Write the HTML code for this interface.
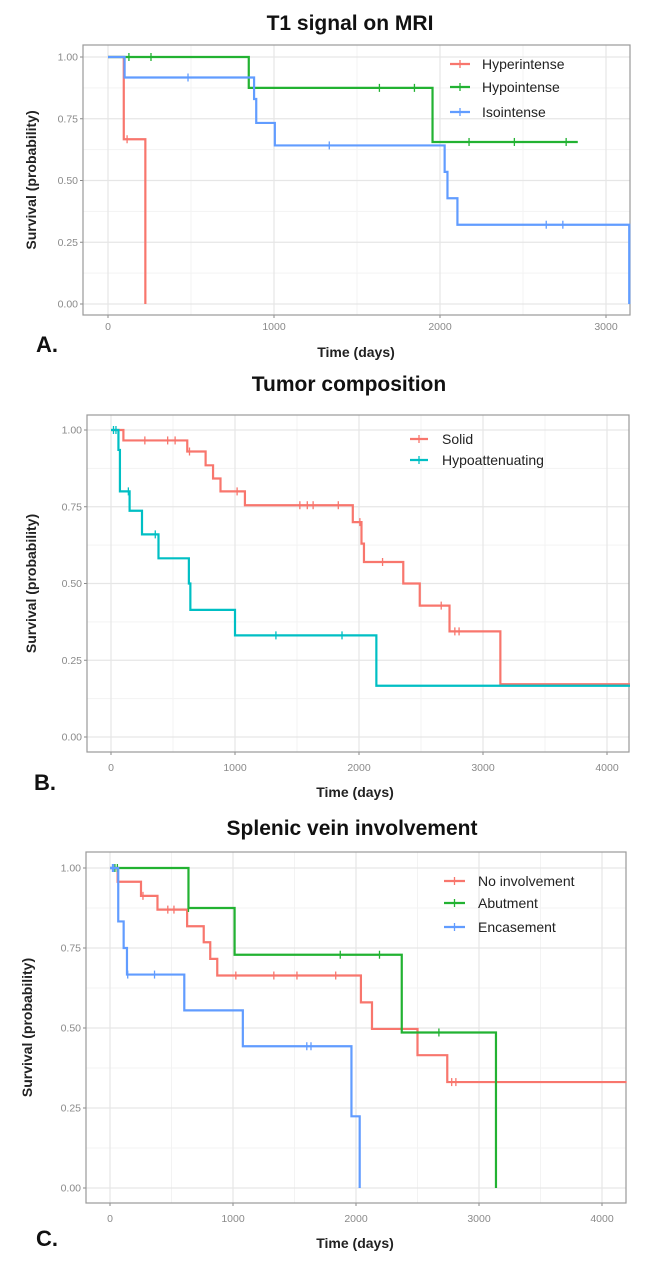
<!DOCTYPE html>
<html><head><meta charset="utf-8">
<style>
html,body{margin:0;padding:0;background:#fff;}
svg{display:block;font-family:"Liberation Sans",sans-serif;}
.tick{fill:#8a8a8a;font-size:10.5px;}
.ttl{font-weight:bold;font-size:21px;fill:#111;}
.axt{font-weight:bold;font-size:14px;fill:#222;}
.lab{font-weight:bold;font-size:22px;fill:#111;}
.leg{font-size:14px;fill:#222;}
</style></head>
<body>
<svg id="fig" width="648" height="1270" viewBox="0 0 648 1270"></svg>
<script>
// ---- Panel A data: T1 signal on MRI ----
const aHyperT=[0,95,225];
const aHyperS=[1,0.667,0];
const aHyperC=[115];
const aHyperEnd=225;
const aHypoT=[0,848,1955];
const aHypoS=[1,0.875,0.656];
const aHypoC=[126,259,1635,1846,2175,2448,2760];
const aHypoEnd=2830;
const aIsoT=[0,100,880,893,1005,2028,2045,2105,3140];
const aIsoS=[1,0.917,0.83,0.733,0.642,0.535,0.428,0.321,0];
const aIsoC=[482,1333,2640,2740];
const aIsoEnd=3140;
// ---- Panel B data: Tumor composition ----
const bSolidT=[0,100,615,763,823,883,1080,1950,2020,2040,2357,2490,2730,3140];
const bSolidS=[1,0.966,0.93,0.885,0.842,0.80,0.755,0.70,0.63,0.57,0.50,0.428,0.344,0.172];
const bSolidC=[273,457,517,633,1017,1523,1583,1630,1833,2007,2190,2663,2773,2807];
const bSolidEnd=4200;
const bHypoT=[0,60,72,150,250,383,628,640,1000,2140];
const bHypoS=[1,0.935,0.80,0.737,0.66,0.582,0.5,0.414,0.331,0.167];
const bHypoC=[20,40,140,357,1330,1863];
const bHypoEnd=4200;
// ---- Panel C data: Splenic vein involvement ----
const cNoT=[0,62,252,386,627,762,815,872,2040,2130,2500,2742];
const cNoS=[1,0.957,0.913,0.87,0.818,0.768,0.716,0.664,0.58,0.497,0.415,0.331];
const cNoC=[268,470,520,1023,1332,1520,1835,2778,2812];
const cNoEnd=4200;
const cAbT=[0,638,1013,2372,3138];
const cAbS=[1,0.875,0.729,0.486,0];
const cAbC=[40,60,638,1872,2191,2674];
const cAbEnd=3138;
const cEnT=[0,67,111,138,604,1080,1963,2030];
const cEnS=[1,0.833,0.75,0.667,0.555,0.443,0.224,0];
const cEnC=[20,30,144,362,1600,1634];
const cEnEnd=2030;
// ---- axis tick labels ----
const yTicks=[0,0.25,0.5,0.75,1];
const yTickLabels=["0.00","0.25","0.50","0.75","1.00"];
const xTicksA=[0,1000,2000,3000];
const xTicksBC=[0,1000,2000,3000,4000];

const NS="http://www.w3.org/2000/svg";
const svg=document.getElementById('fig');
function mk(tag,attrs,parent){const e=document.createElementNS(NS,tag);for(const k in attrs)e.setAttribute(k,attrs[k]);(parent||svg).appendChild(e);return e;}

function panel(p){
  const g=mk('g',{});
  
  
  const sx=d=>p.x0+(d-0)*p.pxPerDay;
  const sy=v=>p.y0-(p.y0-p.y1)*v;
  mk('rect',{x:p.L,y:p.T,width:p.R-p.L,height:p.B-p.T,fill:'#fff'},g);
  for(let i=0;i<yTicks.length-1;i++){const v=(yTicks[i]+yTicks[i+1])/2;mk('line',{x1:p.L,x2:p.R,y1:sy(v),y2:sy(v),stroke:'#f3f3f3','stroke-width':1},g);}
  for(let i=0;i<p.xt.length;i++){const d=p.xt[i]+500;if(sx(d)<p.R)mk('line',{x1:sx(d),x2:sx(d),y1:p.T,y2:p.B,stroke:'#f3f3f3','stroke-width':1},g);}
  yTicks.forEach((v,i)=>{
    mk('line',{x1:p.L,x2:p.R,y1:sy(v),y2:sy(v),stroke:'#e6e6e6','stroke-width':1.2},g);
    mk('line',{x1:p.L-3,x2:p.L,y1:sy(v),y2:sy(v),stroke:'#888','stroke-width':1},g);
    const t=mk('text',{x:p.L-5,y:sy(v)+3.5,'text-anchor':'end',class:'tick'},g);t.textContent=yTickLabels[i];
    
    
  });
  p.xt.forEach(d=>{
    mk('line',{x1:sx(d),x2:sx(d),y1:p.T,y2:p.B,stroke:'#e6e6e6','stroke-width':1.2},g);
    mk('line',{x1:sx(d),x2:sx(d),y1:p.B,y2:p.B+3,stroke:'#888','stroke-width':1},g);
    const t=mk('text',{x:sx(d),y:p.xl,'text-anchor':'middle',class:'tick'},g);t.textContent=String(d);
    
    
  });
  mk('rect',{x:p.L,y:p.T,width:p.R-p.L,height:p.B-p.T,fill:'none',stroke:'#9a9a9a','stroke-width':1.2},g);
  const clip='clip'+p.id;
  const cp=mk('clipPath',{id:clip},g);mk('rect',{x:p.L,y:p.T-5,width:p.R-p.L+1,height:p.B-p.T+10},cp);
  p.series.forEach(s=>{
    let d='M'+sx(s.t[0])+','+sy(s.s[0]);
    for(let i=1;i<s.t.length;i++){d+=' H'+sx(s.t[i])+' V'+sy(s.s[i]);}
    d+=' H'+sx(s.end);
    const path=mk('path',{d:d,fill:'none',stroke:s.col,'stroke-width':2.2,'clip-path':'url(#'+clip+')'},g);
    
    
    s.c.forEach(c=>{
      let v=s.s[0];for(let i=0;i<s.t.length;i++){if(s.t[i]<=c)v=s.s[i];}
      const m=mk('line',{x1:sx(c),x2:sx(c),y1:sy(v)-4,y2:sy(v)+4,stroke:s.col,'stroke-width':1.3},g);
      
      
    });
  });
  p.series.forEach((s,i)=>{
    const y=p.legY[i];
    const lg=mk('g',{},g);
    
    
    mk('line',{x1:p.legX,x2:p.legX+p.legW,y1:y,y2:y,stroke:s.col,'stroke-width':2.2},lg);
    mk('line',{x1:p.legX+p.legW/2,x2:p.legX+p.legW/2,y1:y-4,y2:y+4,stroke:s.col,'stroke-width':1.3},lg);
    const t=mk('text',{x:p.legTX,y:y+5,class:'leg','font-size':p.legFS},lg);t.textContent=s.label;
  });
  const tt=mk('text',{x:p.tx,y:p.ty,'text-anchor':'middle',class:'ttl'},g);tt.textContent=p.title;
  
  const xt=mk('text',{x:p.xtx,y:p.xty,'text-anchor':'middle',class:'axt'},g);xt.textContent='Time (days)';
  
  const cy=(p.T+p.B)/2;
  const yt=mk('text',{x:0,y:0,'text-anchor':'middle',class:'axt',transform:'translate('+p.ytx+','+cy+') rotate(-90)'},g);yt.textContent='Survival (probability)';
  
  const lb=mk('text',{x:p.lx,y:p.ly,class:'lab'},g);lb.textContent=p.letter;
  
}

panel({id:'A',name:'panel-a-t1-signal',L:83,R:630,T:45,B:315,x0:108,pxPerDay:0.166,y0:304,y1:57,xt:xTicksA,xl:330,
  title:'T1 signal on MRI',tx:350,ty:30,xtx:356,xty:357,ytx:36,lx:36,ly:352,letter:'A.',
  legX:450,legW:20,legTX:482,legY:[64,87,112],legFS:15,
  series:[
   {key:'hyperintense',label:'Hyperintense',col:'#F8766D',t:aHyperT,s:aHyperS,c:aHyperC,end:aHyperEnd},
   {key:'hypointense',label:'Hypointense',col:'#22B232',t:aHypoT,s:aHypoS,c:aHypoC,end:aHypoEnd},
   {key:'isointense',label:'Isointense',col:'#619CFF',t:aIsoT,s:aIsoS,c:aIsoC,end:aIsoEnd}]});

panel({id:'B',name:'panel-b-tumor-composition',L:87,R:629,T:415,B:752,x0:111,pxPerDay:0.124,y0:737,y1:430,xt:xTicksBC,xl:771,
  title:'Tumor composition',tx:349,ty:391,xtx:355,xty:797,ytx:36,lx:34,ly:790,letter:'B.',
  legX:410,legW:18,legTX:442,legFS:13,
  legY:[439,460],
  series:[
   {key:'solid',label:'Solid',col:'#F8766D',t:bSolidT,s:bSolidS,c:bSolidC,end:bSolidEnd},
   {key:'hypoattenuating',label:'Hypoattenuating',col:'#00BFC4',t:bHypoT,s:bHypoS,c:bHypoC,end:bHypoEnd}]});

panel({id:'C',name:'panel-c-splenic-vein',L:86,R:626,T:852,B:1203,x0:110,pxPerDay:0.123,y0:1188,y1:868,xt:xTicksBC,xl:1222,
  title:'Splenic vein involvement',tx:352,ty:835,xtx:355,xty:1248,ytx:32,lx:36,ly:1246,letter:'C.',
  legX:444,legW:21,legTX:478,legY:[881,903,927],legFS:15,
  series:[
   {key:'no-involvement',label:'No involvement',col:'#F8766D',t:cNoT,s:cNoS,c:cNoC,end:cNoEnd},
   {key:'abutment',label:'Abutment',col:'#22B232',t:cAbT,s:cAbS,c:cAbC,end:cAbEnd},
   {key:'encasement',label:'Encasement',col:'#619CFF',t:cEnT,s:cEnS,c:cEnC,end:cEnEnd}]});
</script>
</body></html>
